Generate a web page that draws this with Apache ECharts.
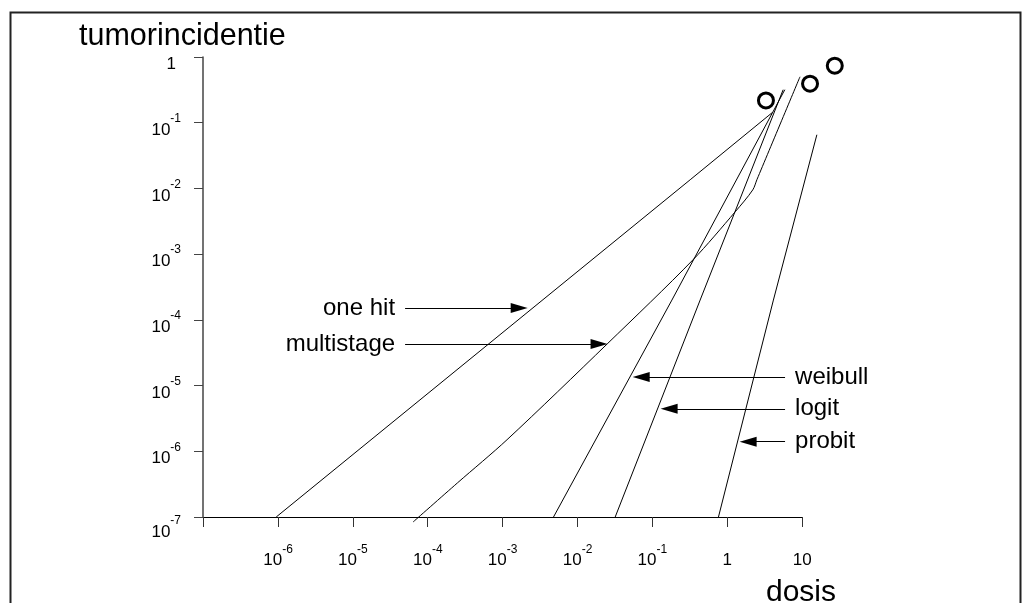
<!DOCTYPE html>
<html>
<head>
<meta charset="utf-8">
<script src="https://cdn.jsdelivr.net/npm/echarts@6/dist/echarts.min.js"></script>
<style>
html,body{margin:0;padding:0;background:#fff;}
#chart{width:1028px;height:603px;}
</style>
</head>
<body>
<div id="chart"></div>
<script>
// ---- data ----
const oneHit     = [[9.5e-7, 1e-7], [0.321, 0.01355], [3.99, 0.142]];
const multistage = [[6.4e-5, 8.4e-8], [2.5e-4, 3.3e-7], [1.15e-3, 1.5e-6], [0.025, 4.3e-5], [0.35, 8.2e-4], [1.28, 4.4e-3], [2.2, 9.5e-3], [2.5, 0.0136], [9.4, 0.5]];
const weibull    = [[4.8e-3, 1e-7], [0.183, 2.0e-4], [5.9, 0.318]];
const logit      = [[0.032, 1e-7], [0.436, 2.0e-4], [5.6, 0.318]];
const probit     = [[0.766, 1e-7], [4.15, 2.0e-4], [15.8, 0.0656]];
const observed   = [[3.3, 0.218], [12.8, 0.393], [27.4, 0.738]];

// annotation arrows (label, start dose, end dose, incidence level)
const arrowLabels = ['one hit', 'multistage', 'weibull', 'logit', 'probit'];
const arrowFrom   = [5.0e-5, 5.0e-5, 5.94, 5.94, 5.94];
const arrowTo     = [1.67e-3, 0.0195, 0.0711, 0.168, 1.907];
const arrowY      = [1.52e-4, 4.3e-5, 1.355e-5, 4.42e-6, 1.40e-6];

const xName = 'dosis';
const yName = 'tumorincidentie';
// visible axes
const xMin = 1e-7, xMax = 10, yMin = 1e-7, yMax = 1;
// drawing area for the curves (one extra decade right and below, same scale)
const xMaxDraw = 100, yMinDraw = 1e-8;

const FONT = '"Liberation Sans", Arial, Helvetica, sans-serif';
const G = { left: 203, right: 226, top: 57, bottom: 86 };
const pxPerDecX = (1028 - G.left - G.right) / 8;
const pxPerDecY = (603 - G.top - G.bottom) / 7;

function arrowMark(i) {
  return {
    silent: true,
    symbol: ['none', 'triangle'],
    symbolSize: 16,
    lineStyle: { color: '#000', width: 1, type: 'solid' },
    label: {
      show: true, position: 'start', distance: 10,
      formatter: arrowLabels[i], color: '#000', fontSize: 24, fontFamily: FONT
    },
    emphasis: { disabled: true },
    data: [[{ coord: [arrowFrom[i], arrowY[i]] }, { coord: [arrowTo[i], arrowY[i]], symbolSize: [10, 17] }]]
  };
}

function curve(name, data, idx, smooth) {
  return {
    name: name, type: 'line', data: data, symbol: 'none', clip: false,
    xAxisIndex: 1, yAxisIndex: 1, smooth: smooth || false,
    lineStyle: { color: '#000', width: 1 }, silent: true,
    markLine: arrowMark(idx)
  };
}

const richY = {
  e:  { fontSize: 1, lineHeight: 6 },
  e7: { fontSize: 1, lineHeight: 22 },
  g:  { fontSize: 1, lineHeight: 26 },
  b:  { fontSize: 17, verticalAlign: 'bottom', fontFamily: FONT, color: '#000' },
  b1: { fontSize: 17, verticalAlign: 'bottom', fontFamily: FONT, color: '#000', padding: [0, 5, 0, 0] },
  s:  { fontSize: 12, verticalAlign: 'top', fontFamily: FONT, color: '#000' }
};

const chart = echarts.init(document.getElementById('chart'), null, { renderer: 'canvas' });
chart.setOption({
  animation: false,
  backgroundColor: '#fff',
  textStyle: { fontFamily: FONT },
  title: [
    { text: yName, left: 74, top: 16, textStyle: { fontSize: 30.5, fontWeight: 'normal', color: '#000', fontFamily: FONT } },
    { text: xName, left: 761, top: 573, textStyle: { fontSize: 30, fontWeight: 'normal', color: '#000', fontFamily: FONT } }
  ],
  graphic: [{
    type: 'rect', left: 8, top: 10, silent: true,
    shape: { width: 1010, height: 640 },
    style: { fill: 'none', stroke: '#222', lineWidth: 2 }
  }],
  grid: [
    G,
    { left: G.left, right: G.right - pxPerDecX, top: G.top, bottom: G.bottom - pxPerDecY }
  ],
  xAxis: [{
    gridIndex: 0,
    type: 'log', logBase: 10, min: xMin, max: xMax,
    splitLine: { show: false },
    axisLine: { lineStyle: { color: '#000', width: 1 } },
    axisTick: { show: true, length: 10, lineStyle: { color: '#333' } },
    axisLabel: {
      margin: 27, color: '#000', showMinLabel: true, showMaxLabel: true,
      formatter: function (v) {
        const e = Math.round(Math.log10(v));
        if (e === -7) return '';
        if (e === 0) return '{xg| }{xb|1}';
        if (e === 1) return '{xg| }{xb|10}';
        return '{xg| }{xb|10}{xs|' + e + '}';
      },
      rich: {
        xg: { fontSize: 1, lineHeight: 25 },
        xb: { fontSize: 17, verticalAlign: 'bottom', fontFamily: FONT, color: '#000' },
        xs: { fontSize: 12, verticalAlign: 'top', fontFamily: FONT, color: '#000' }
      }
    }
  }, {
    gridIndex: 1, type: 'log', logBase: 10, min: xMin, max: xMaxDraw, show: false
  }],
  yAxis: [{
    gridIndex: 0,
    type: 'log', logBase: 10, min: yMin, max: yMax,
    splitLine: { show: false },
    axisLine: { show: true, lineStyle: { color: '#444', width: 1.5 } },
    axisTick: { show: true, length: 9, lineStyle: { color: '#444' } },
    axisLabel: {
      margin: 22, color: '#000', showMinLabel: true, showMaxLabel: true,
      formatter: function (v) {
        const e = Math.round(Math.log10(v));
        if (e === 0) return '{e| }\n{g| }{b1|1}';
        if (e === -7) return '{e7| }\n{g| }{b|10}{s|' + e + '}';
        return '{e| }\n{g| }{b|10}{s|' + e + '}';
      },
      rich: richY
    }
  }, {
    gridIndex: 1, type: 'log', logBase: 10, min: yMinDraw, max: yMax, show: false
  }],
  series: [
    curve('one hit', oneHit, 0),
    curve('multistage', multistage, 1, 0.3),
    curve('weibull', weibull, 2),
    curve('logit', logit, 3),
    curve('probit', probit, 4),
    {
      name: 'waarnemingen', type: 'scatter', data: observed, clip: false, silent: true,
      xAxisIndex: 1, yAxisIndex: 1,
      symbol: 'circle', symbolSize: 15,
      itemStyle: { color: 'rgba(255,255,255,0)', borderColor: '#000', borderWidth: 3, opacity: 1 }
    }
  ]
});
</script>
</body>
</html>
